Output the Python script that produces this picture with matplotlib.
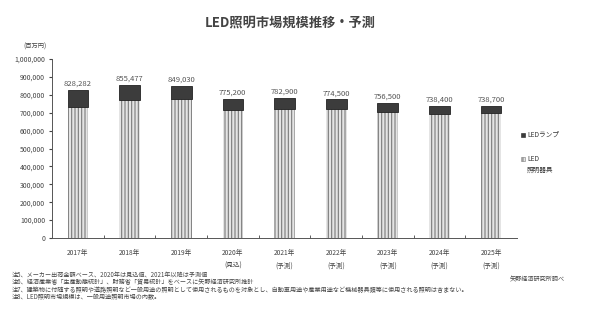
import matplotlib
matplotlib.use('Agg')
import matplotlib.pyplot as plt
from matplotlib.patches import Rectangle
import numpy as np

plt.rcParams['font.family'] = ['Noto Sans CJK JP', 'DejaVu Sans']
plt.rcParams['hatch.linewidth'] = 0.8

years = ['2017年', '2018年', '2019年', '2020年\n(見込)', '2021年\n(予測)',
         '2022年\n(予測)', '2023年\n(予測)', '2024年\n(予測)', '2025年\n(予測)']
totals = [828282, 855477, 849030, 775200, 782900, 774500, 756500, 738400, 738700]
total_labels = ['828,282', '855,477', '849,030', '775,200', '782,900',
                '774,500', '756,500', '738,400', '738,700']
lamps = [97000, 86000, 74000, 60000, 60000, 56000, 50000, 45000, 41000]
fixtures = [t - l for t, l in zip(totals, lamps)]

notes = [
    '注5、メーカー出荷金額ベース、2020年は見込値、2021年以降は予測値',
    '注6、経済産業省「生産動態統計」、財務省「貿易統計」をベースに矢野経済研究所推計',
    '注7、建築物に付随する照明や道路照明など一般用途の照明として使用されるものを対象とし、自動車用途や産業用途など機械器具類等に使用される照明は含まない。',
    '注8、LED照明市場規模は、一般用途照明市場の内数。',
]

fig = plt.figure(figsize=(6, 3.28), dpi=100)
ax = fig.add_axes([52/600, 1 - 238/328, 465/600, 179/328])

x = np.arange(len(years))
w = 0.4
ax.bar(x, fixtures, w, color='#e4e4e4', edgecolor='#7a7a7a', hatch='|||||', linewidth=0)
ax.bar(x, lamps, w, bottom=fixtures, color='#3c3c3c', edgecolor='#222222', linewidth=0.6)

for xi, t, lab in zip(x, totals, total_labels):
    ax.text(xi, t + 12000, lab, ha='center', va='bottom', fontsize=5.5, color='#555555')

ax.set_xlim(-0.5, len(years) - 0.5)
ax.set_ylim(0, 1000000)
ax.set_yticks(np.arange(0, 1000001, 100000))
ax.set_yticklabels([f'{v:,}' for v in range(0, 1000001, 100000)], fontsize=5, color='#444444')
ax.set_xticks(x)
ax.set_xticklabels(years, fontsize=4.8, color='#444444', linespacing=1.8)
ax.set_xticks(np.arange(0.5, len(years) - 1, 1), minor=True)
ax.tick_params(axis='x', which='major', length=0, pad=8)
ax.tick_params(axis='x', which='minor', length=2, direction='in', color='#444444')
ax.tick_params(axis='y', length=2, color='#444444', pad=3)
for s in ['top', 'right']:
    ax.spines[s].set_visible(False)
for s in ['left', 'bottom']:
    ax.spines[s].set_color('#555555')
    ax.spines[s].set_linewidth(0.7)

ax.text(-0.012, 1.045, '(百万円)', transform=ax.transAxes, fontsize=4.5,
        color='#444444', ha='right', va='bottom')

# legend drawn by hand (two entries, fixtures label on two lines)
fig.patches.append(Rectangle((521/600, 1 - 136.5/328), 4/600, 4/328, transform=fig.transFigure,
                             facecolor='#3c3c3c', edgecolor='#222222', linewidth=0.4))
fig.text(527/600, 1 - 134.5/328, 'LEDランプ', fontsize=4.8, color='#333333', va='center')
fig.patches.append(Rectangle((521/600, 1 - 161/328), 4/600, 4/328, transform=fig.transFigure,
                             facecolor='#e4e4e4', edgecolor='#7a7a7a', hatch='||||', linewidth=0.4))
fig.text(527/600, 1 - 159/328, 'LED', fontsize=4.8, color='#333333', va='center')
fig.text(527/600, 1 - 170/328, '照明器具', fontsize=4.8, color='#333333', va='center')

fig.text(290/600, 1 - 22/328, 'LED照明市場規模推移・予測', ha='center', va='center',
         fontsize=9.5, fontweight='bold', color='#444444')

for i, n in enumerate(notes):
    fig.text(12/600, 1 - (275 + i * 7.5)/328, n, fontsize=4.4, color='#444444', va='center')
fig.text(537/600, 1 - 279/328, '矢野経済研究所調べ', fontsize=4.4, color='#444444',
         ha='center', va='center')

fig.savefig('out.png', dpi=100)
